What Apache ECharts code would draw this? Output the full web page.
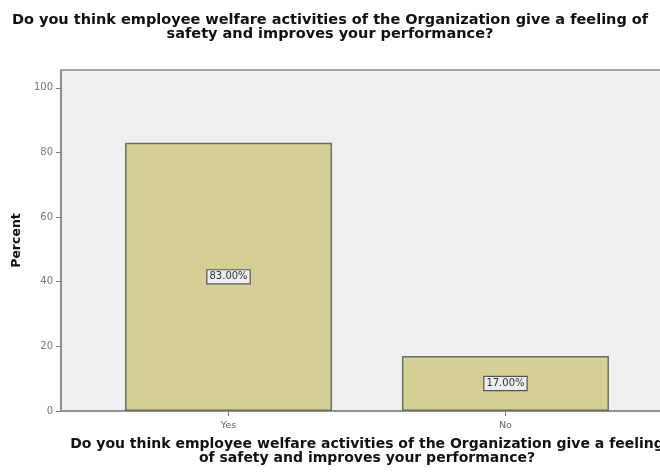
<!DOCTYPE html>
<html>
<head>
<meta charset="utf-8">
<script src="https://cdn.jsdelivr.net/npm/echarts@6/dist/echarts.min.js"></script>
<style>
  html, body { margin: 0; padding: 0; background: #fff; }
  #chart { width: 660px; height: 473px; }
</style>
</head>
<body>
<div id="chart"></div>
<script>
/* data */
const categories = ['Yes', 'No']
const percents = [83, 17]
const yTicks = [0, 20, 40, 60, 80, 100]

const questionText = 'Do you think employee welfare activities of the Organization give a feeling of\nsafety and improves your performance?'
const axisNameText = 'Do you think employee welfare activities of the Organization give a feeling\nof safety and improves your performance?'

/* categories sit at 1, 2 on a value axis so the plot can run wider than the bars */
const positions = categories.map((c, i) => i + 1)
const barData = percents.map((v, i) => [positions[i], v])

const chart = echarts.init(document.getElementById('chart'))

const boldFont = 'DejaVu Sans, Liberation Sans, sans-serif'

chart.setOption({
  animation: false,
  textStyle: { fontFamily: boldFont },
  title: {
    text: questionText,
    left: 'center',
    top: 8,
    textStyle: { fontSize: 14.5, fontWeight: 'bold', color: '#111', lineHeight: 14, fontFamily: boldFont }
  },
  grid: {
    left: 61,
    top: 70,
    width: 612,
    bottom: 62,
    outerBoundsMode: 'none',
    containLabel: false,
    show: true,
    backgroundColor: '#efefef',
    borderColor: '#8a8a8a',
    borderWidth: 1.5
  },
  xAxis: {
    type: 'value',
    min: 0.395,
    max: 2.605,
    name: axisNameText,
    nameLocation: 'middle',
    nameGap: 26,
    nameTextStyle: { fontSize: 14, fontWeight: 'bold', color: '#111', lineHeight: 14, fontFamily: boldFont },
    splitLine: { show: false },
    axisLine: { show: true, lineStyle: { color: '#8a8a8a', width: 1.5 } },
    axisTick: { show: true, length: 5, customValues: positions, lineStyle: { color: '#777' } },
    axisLabel: {
      customValues: positions,
      fontSize: 9.5,
      color: '#666',
      margin: 10,
      formatter: v => categories[Math.round(v) - 1] || ''
    }
  },
  yAxis: {
    type: 'value',
    min: 0,
    max: 105.5,
    name: 'Percent',
    nameLocation: 'middle',
    nameGap: 38,
    nameTextStyle: { fontSize: 12.5, fontWeight: 'bold', color: '#111', fontFamily: boldFont },
    splitLine: { show: false },
    axisLine: { show: true, lineStyle: { color: '#8a8a8a', width: 1.5 } },
    axisTick: { show: true, length: 5, customValues: yTicks, lineStyle: { color: '#777' } },
    axisLabel: { customValues: yTicks, fontSize: 10, color: '#777', margin: 8 }
  },
  series: [{
    type: 'bar',
    data: barData,
    barWidth: 207,
    itemStyle: { color: '#d3cf95', borderColor: '#6e6e60', borderWidth: 1.5 },
    label: {
      show: true,
      position: 'inside',
      formatter: p => p.value[1].toFixed(2) + '%',
      fontSize: 10,
      color: '#333',
      backgroundColor: '#eeeeee',
      borderColor: '#555',
      borderWidth: 1.2,
      padding: [2, 2, 1, 2]
    }
  }]
})
</script>
</body>
</html>
